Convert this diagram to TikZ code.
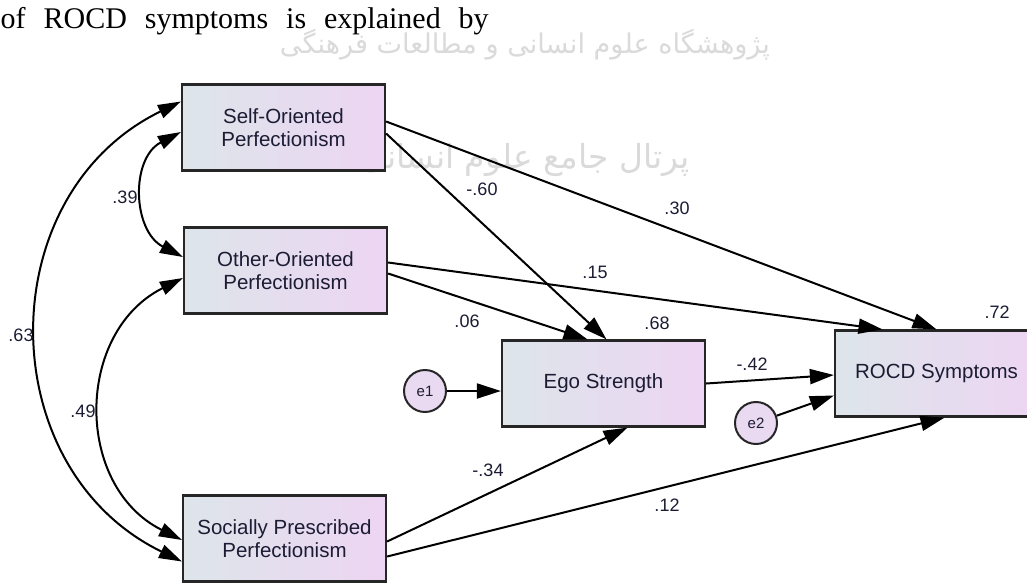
\documentclass[tikz,border=0pt]{standalone}
\usepackage{fontspec}
\setmainfont{Liberation Sans}
\newfontfamily\serifdoc{Liberation Serif}
\newfontfamily\arabicfont[Script=Arabic]{DejaVu Sans}
\usepackage{graphicx}
\TeXXeTstate=1
\usetikzlibrary{arrows.meta,calc}
\definecolor{boxL}{RGB}{221,229,234}
\definecolor{boxR}{RGB}{237,213,243}
\definecolor{errfill}{RGB}{233,217,241}
\definecolor{txt}{RGB}{28,28,52}
\definecolor{wmgray}{RGB}{218,218,218}
\tikzset{
  varbox/.style={draw=black!85, line width=2.2pt, left color=boxL, right color=boxR,
    minimum width=203pt, minimum height=86pt, inner sep=0pt, align=center, text=txt,
    font=\fontsize{20.5}{23}\selectfont},
  errc/.style={circle, draw=black!85, line width=2pt, fill=errfill, minimum size=42pt,
    inner sep=0pt, text=txt, font=\fontsize{15}{15}\selectfont},
  coef/.style={text=txt, font=\fontsize{18}{18}\selectfont, inner sep=0pt},
  reg/.style={line width=2pt, -{Triangle[length=24pt,width=15pt]}},
  cov/.style={line width=2pt, {Triangle[length=23pt,width=14pt]}-{Triangle[length=23pt,width=14pt]}},
  wm/.style={text=wmgray, inner sep=0pt}
}
\begin{document}
\begin{tikzpicture}[x=1pt,y=-1pt]
\useasboundingbox (0,0) rectangle (1027,582);
\fill[white] (0,0) rectangle (1027,582);

% faint watermark
\node[wm] (wm1) at (525,45) {\resizebox{490pt}{!}{\arabicfont\beginR پژوهشگاه علوم انسانی و مطالعات فرهنگی\endR}};
\node[wm] (wm2) at (525,160) {\resizebox{330pt}{!}{\arabicfont\beginR پرتال جامع علوم انسانی\endR}};

% running text from the page
\node[anchor=base west, inner sep=0pt, text=black] (caption) at (0.5,28)
  {\serifdoc\fontsize{30}{30}\selectfont\hbox to 488pt{of\hfill ROCD\hfill symptoms\hfill is\hfill explained\hfill by}};

% variables
\node[varbox] (sop) at (283.5,127.5) {Self-Oriented\\Perfectionism};
\node[varbox] (oop) at (285.5,270.5) {Other-Oriented\\Perfectionism};
\node[varbox] (spp) at (284.5,538.5) {Socially Prescribed\\Perfectionism};
\node[varbox] (ego) at (603.5,383.5) {Ego Strength};
\node[varbox] (rocd) at (936.5,373.5) {ROCD Symptoms};
\node[errc] (e1) at (425,391) {e1};
\node[errc] (e2) at (756,423) {e2};

% regression paths
\draw[reg] ($(sop.east)+(0,-6)$) -- (rocd.north);
\draw[reg] ($(sop.east)+(0,6)$) -- ($(ego.north)+(3,0)$);
\draw[reg] ($(oop.east)+(0,-8)$) -- ($(rocd.north)+(-54,0)$);
\draw[reg] ($(oop.east)+(0,3)$) -- ($(ego.north)+(-16,0)$);
\draw[reg] (ego.east) -- ($(rocd.west)+(0,1.5)$);
\draw[reg] (e1.east) -- ($(ego.west)+(0,7.5)$);
\draw[reg] (e2) -- ($(rocd.west)+(0,22)$);
\draw[reg] ($(spp.east)+(0,3)$) -- ($(ego.south)+(24,0)$);
\draw[reg] ($(spp.east)+(0,18)$) -- ($(rocd.south)+(8,0)$);

% correlations
\draw[cov] ($(sop.west)+(0,-26)$) .. controls +(-191,93) and +(-191,-93) .. ($(spp.west)+(0,23)$);
\draw[cov] ($(sop.west)+(0,4.5)$) .. controls +(-50.6,26.2) and +(-50.6,-26.2) .. ($(oop.west)+(0,-13.5)$);
\draw[cov] ($(oop.west)+(0,7.5)$) .. controls +(-108,54) and +(-108,-54) .. ($(spp.west)+(0,1.5)$);

% coefficients
\node[coef] (c39) at (125,197) {.39};
\node[coef] (c63) at (21,335) {.63};
\node[coef] (c49) at (83,411) {.49};
\node[coef] (c60) at (482,189) {-.60};
\node[coef] (c30) at (677,208) {.30};
\node[coef] (c15) at (595,272) {.15};
\node[coef] (c06) at (467,321) {.06};
\node[coef] (c68) at (657,323) {.68};
\node[coef] (c72) at (997,312) {.72};
\node[coef] (c42) at (752,364) {-.42};
\node[coef] (c34) at (488,470) {-.34};
\node[coef] (c12) at (667,505) {.12};
\end{tikzpicture}
\end{document}
